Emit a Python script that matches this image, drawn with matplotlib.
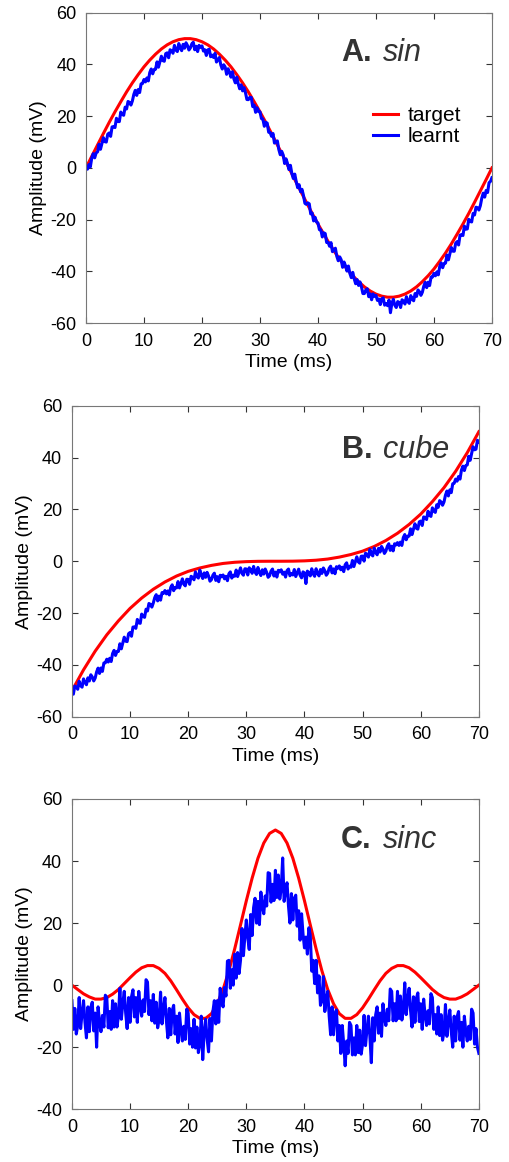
import numpy as np
import matplotlib.pyplot as plt

plt.rcParams['font.family'] = ['Liberation Sans', 'DejaVu Sans']
plt.rcParams['axes.unicode_minus'] = False

# -----------------------------------------------------
#  Data
# -----------------------------------------------------
t_target = np.arange(0, 71, 1.0)          # 1 ms grid for sin / sinc targets
t_cube_target = np.arange(0, 71, 2.0)     # 2 ms grid for the cubic target
t_learnt = np.arange(0, 70.25, 0.25)      # 0.25 ms grid for learnt traces

sin_target = [
    0.0, 4.5, 8.9, 13.3, 17.6, 21.7, 25.6, 29.4, 32.9, 36.1,
    39.1, 41.7, 44.0, 46.0, 47.6, 48.8, 49.6, 50.0, 50.0, 49.6,
    48.8, 47.6, 46.0, 44.0, 41.7, 39.1, 36.1, 32.9, 29.4, 25.6,
    21.7, 17.6, 13.3, 8.9, 4.5, 0.0, -4.5, -8.9, -13.3, -17.6,
    -21.7, -25.6, -29.4, -32.9, -36.1, -39.1, -41.7, -44.0, -46.0, -47.6,
    -48.8, -49.6, -50.0, -50.0, -49.6, -48.8, -47.6, -46.0, -44.0, -41.7,
    -39.1, -36.1, -32.9, -29.4, -25.6, -21.7, -17.6, -13.3, -8.9, -4.5,
    0.0,
]

sin_learnt = [
    0.2, -0.5, 1.3, 0.4, 3.9, 5.5, 3.9, 5.8,
    6.2, 9.15, 7.2, 9.45, 11.7, 10.15, 10.0, 13.05,
    13.5, 12.2, 15.85, 16.0, 15.6, 19.2, 17.95, 17.9,
    21.6, 20.7, 20.35, 23.5, 22.8, 25.7, 25.35, 24.3,
    25.9, 28.45, 30.0, 28.05, 30.3, 29.15, 32.5, 32.65,
    34.2, 33.25, 34.8, 33.65, 36.9, 38.25, 36.4, 38.05,
    38.2, 41.0, 38.95, 41.1, 43.2, 41.5, 41.25, 44.2,
    44.5, 42.6, 45.7, 45.3, 44.35, 47.4, 45.6, 45.0,
    48.1, 46.4, 45.35, 47.8, 46.3, 48.4, 47.35, 45.6,
    46.4, 48.0, 48.6, 45.7, 47.05, 45.0, 47.4, 46.6,
    47.2, 45.2, 45.7, 43.5, 45.65, 45.9, 43.0, 43.6,
    42.7, 44.3, 40.95, 41.8, 42.7, 39.8, 38.25, 39.9,
    39.0, 36.2, 38.35, 37.0, 35.1, 37.2, 34.45, 32.9,
    35.1, 32.55, 30.6, 32.15, 29.8, 31.05, 29.1, 26.45,
    26.4, 27.3, 27.25, 23.7, 24.3, 21.5, 23.25, 21.8,
    21.7, 19.1, 18.9, 16.1, 17.65, 17.3, 13.8, 13.7,
    12.2, 13.3, 9.6, 10.0, 10.45, 7.1, 5.1, 6.4,
    5.0, 1.7, 3.5, 1.7, -0.65, 1.0, -2.2, -4.1,
    -2.4, -5.3, -7.65, -6.5, -9.2, -8.3, -10.65, -13.7,
    -14.1, -13.5, -13.9, -17.8, -17.45, -20.5, -19.1, -20.9,
    -21.3, -23.9, -23.95, -26.7, -25.1, -25.4, -28.85, -28.8,
    -30.3, -28.9, -32.4, -31.7, -31.05, -34.2, -35.9, -34.4,
    -35.5, -38.45, -36.4, -37.85, -39.9, -37.95, -40.8, -42.45,
    -40.4, -42.9, -44.8, -43.2, -45.45, -44.1, -46.0, -48.6,
    -48.6, -47.2, -46.75, -49.8, -48.7, -51.0, -48.75, -49.7,
    -49.3, -51.25, -50.7, -52.85, -50.6, -50.25, -53.1, -52.45,
    -53.3, -51.1, -56.0, -52.3, -50.8, -53.1, -54.0, -51.7,
    -52.0, -54.0, -51.0, -51.5, -52.65, -49.8, -51.7, -52.4,
    -49.4, -50.7, -51.4, -48.6, -49.7, -47.2, -47.9, -49.3,
    -48.1, -45.7, -44.25, -46.3, -44.2, -45.5, -42.25, -42.2,
    -40.8, -41.75, -40.2, -41.35, -38.1, -36.75, -38.6, -36.95,
    -36.8, -33.7, -35.55, -33.2, -30.8, -32.2, -32.25, -29.1,
    -28.5, -29.8, -26.0, -25.8, -26.15, -22.5, -23.7, -23.6,
    -19.9, -20.7, -20.9, -17.6, -18.2, -15.2, -15.4, -16.3,
    -14.6, -11.7, -9.75, -11.3, -8.7, -9.5, -5.75, -5.2,
    -3.8,
]

cube_target = [
    -50.0, -41.9, -34.7, -28.4, -23.0, -18.2, -14.2, -10.8, -8.0, -5.7,
    -3.9, -2.6, -1.6, -0.85, -0.4, -0.15, -0.03, 0.0, 0.0, 0.03,
    0.15, 0.4, 0.85, 1.6, 2.6, 3.9, 5.7, 8.0, 10.8, 14.2,
    18.2, 23.0, 28.4, 34.7, 41.9, 50.0,
]

cube_learnt = [
    -49.5, -51.3, -48.15, -48.5, -49.4, -46.3, -48.05, -48.6,
    -45.4, -46.8, -47.65, -45.0, -46.2, -43.8, -44.65, -46.2,
    -45.1, -42.7, -41.25, -43.3, -41.2, -42.5, -39.25, -39.2,
    -37.8, -38.9, -37.45, -38.7, -35.6, -34.4, -36.35, -34.8,
    -34.8, -31.85, -33.8, -31.55, -29.3, -30.85, -31.0, -27.95,
    -27.5, -28.95, -25.4, -25.35, -25.9, -22.45, -23.8, -23.95,
    -20.4, -21.3, -21.65, -18.5, -19.2, -16.3, -16.65, -17.7,
    -16.1, -14.0, -12.9, -15.3, -13.45, -15.0, -12.1, -12.4,
    -11.3, -12.6, -11.45, -13.0, -10.1, -9.1, -11.35, -10.1,
    -10.3, -7.85, -10.3, -8.55, -6.8, -8.85, -9.5, -6.95,
    -7.0, -8.9, -5.8, -6.2, -7.15, -4.1, -5.9, -6.5,
    -3.4, -5.3, -6.65, -4.5, -6.2, -4.3, -5.65, -7.7,
    -7.1, -5.4, -4.6, -7.4, -5.95, -7.9, -5.4, -6.0,
    -5.3, -6.8, -5.8, -7.5, -4.85, -4.1, -6.5, -5.4,
    -5.8, -3.4, -5.9, -4.2, -2.55, -4.7, -5.4, -2.9,
    -3.0, -5.3, -2.5, -3.3, -4.65, -2.0, -4.2, -5.1,
    -2.4, -4.3, -5.5, -3.3, -4.95, -3.0, -4.3, -6.2,
    -5.6, -3.8, -3.0, -5.7, -4.2, -6.1, -3.5, -4.1,
    -3.3, -5.0, -4.2, -6.1, -3.6, -3.0, -5.6, -4.7,
    -5.3, -3.2, -5.9, -4.5, -3.05, -5.4, -6.4, -4.1,
    -4.5, -8.6, -3.8, -4.4, -5.65, -2.9, -4.9, -5.8,
    -2.9, -4.6, -5.65, -3.2, -4.7, -2.6, -3.65, -5.4,
    -4.6, -2.7, -1.9, -4.5, -2.95, -4.8, -2.1, -2.7,
    -1.8, -3.3, -2.3, -4.0, -1.35, -0.6, -3.0, -1.9,
    -2.3, 0.3, -2.05, -0.2, 1.7, -0.2, -0.75, 1.9,
    2.0, 0.05, 3.1, 2.65, 1.6, 4.55, 2.7, 2.05,
    5.1, 3.5, 2.5, 5.0, 3.55, 5.7, 4.7, 3.0,
    3.9, 5.8, 6.75, 4.2, 5.8, 4.0, 6.75, 6.3,
    7.2, 6.1, 7.4, 6.1, 9.15, 10.3, 8.3, 9.7,
    9.7, 12.5, 10.3, 12.4, 14.45, 12.7, 12.4, 15.2,
    15.5, 13.8, 17.1, 16.9, 16.1, 19.3, 17.7, 17.3,
    20.6, 19.4, 18.85, 21.8, 20.8, 23.4, 22.85, 21.6,
    22.9, 25.5, 27.1, 25.2, 27.55, 26.5, 29.9, 30.1,
    31.7, 30.9, 32.7, 31.7, 35.15, 36.7, 35.0, 36.9,
    37.2, 40.5, 38.95, 41.6, 44.2, 43.0, 43.25, 46.7,
    46.0,
]

sinc_target = [
    0.0, -1.4, -2.8, -3.8, -4.5, -4.5, -4.0, -2.9, -1.4, 0.5,
    2.4, 4.2, 5.6, 6.3, 6.3, 5.4, 3.8, 1.4, -1.5, -4.5,
    -7.3, -9.5, -10.7, -10.7, -9.2, -6.0, -1.4, 4.6, 11.7, 19.4,
    27.2, 34.5, 40.9, 45.8, 48.9, 50.0, 48.9, 45.8, 40.9, 34.5,
    27.2, 19.4, 11.7, 4.6, -1.4, -6.0, -9.2, -10.7, -10.7, -9.5,
    -7.3, -4.5, -1.5, 1.4, 3.8, 5.4, 6.3, 6.3, 5.6, 4.2,
    2.4, 0.5, -1.4, -2.9, -4.0, -4.5, -4.5, -3.8, -2.8, -1.4,
    0.0,
]

sinc_learnt = [
    -5, -14.25, -7.5, -15.75, -13, -4, -14, -9,
    -5, -12, -17, -7, -15, -7.25, -5.5, -14.75,
    -9, -20, -7, -12, -15, -9.75, -13.5, -3.25,
    -4, -13.75, -8.5, -14.25, -5, -13.5, -6, -13.5,
    -10, -1, -11, -6, -2, -9, -14, -4,
    -12, -3.75, -1.5, -10.25, -4, -12, -2, -7,
    -10, -4.75, -8.5, 1.75, 1, -9.5, -5, -11.5,
    -3, -12.25, -5.5, -13.75, -11, -2.25, -12.5, -7.75,
    -4, -11.5, -17, -7.5, -16, -8.25, -6.5, -15.75,
    -10, -18.5, -9, -14.5, -18, -13.25, -17.5, -7.75,
    -9, -19, -14, -20, -11, -20.25, -13.5, -21.75,
    -19, -10, -24, -15, -11, -17.25, -21.5, -10.75,
    -18, -8.5, -5, -12.5, -5, -12, -1, -5,
    -7, -0.75, -3.5, 7.75, 8, -1, 5, 0,
    10, 2.25, 10.5, 3.75, 8, 18.25, 9.5, 15.75,
    21, 15.25, 11.5, 22.75, 16, 25, 28, 20,
    27, 19.5, 30, 25.5, 23, 28.75, 25.5, 36.25,
    36, 26.75, 32.5, 27.25, 37, 28.25, 35.5, 27.75,
    31, 41, 27, 30.5, 33, 25.5, 20, 29.5,
    21, 28, 29, 19, 24, 14.5, 23, 16.5,
    12, 15.5, 10, 18.5, 16, 4.5, 8, 0.5,
    8, -2.5, 3, -6.5, -5, 2.75, -8.5, -4.75,
    -2, -10, -16, -7, -16, -9, -8, -18,
    -13, -22, -13, -19, -26, -18, -22, -12,
    -13, -22.5, -17, -22.5, -13, -21.75, -14.5, -22.25,
    -19, -9.75, -19.5, -14.25, -10, -16.5, -25, -10.5,
    -18, -9.5, -7, -15.5, -9, -16.5, -6, -10.5,
    -13, -7.75, -11.5, -1.25, -2, -11.5, -6, -11.5,
    -2, -10.75, -3.5, -11.25, -8, 0.75, -9.5, -4.75,
    -1, -8.25, -13.5, -3.75, -12, -4.25, -2.5, -11.75,
    -6, -14.25, -4.5, -9.75, -13, -8.25, -12.5, -2.75,
    -4, -14.25, -9.5, -15.75, -7, -16.25, -9.5, -17.75,
    -15, -6.25, -16.5, -11.75, -8, -15, -20, -10,
    -18, -10.25, -8.5, -17.75, -12, -20, -10, -15,
    -18, -13.25, -17.5, -7.75, -9, -19, -14, -20,
    -22,
]

panels = [
    ("A.", "sin", t_target, sin_target, sin_learnt, (-60, 60), np.arange(-60, 61, 20)),
    ("B.", "cube", t_cube_target, cube_target, cube_learnt, (-60, 60), np.arange(-60, 61, 20)),
    ("C.", "sinc", t_target, sinc_target, sinc_learnt, (-40, 60), np.arange(-40, 61, 20)),
]

# axes rectangles (left, bottom, width, height) in figure fraction
rects = [
    (0.1686, 0.722, 0.796, 0.267),
    (0.141, 0.3832, 0.798, 0.2676),
    (0.141, 0.0454, 0.798, 0.267),
]
title_x = [(0.628, 0.731), (0.663, 0.764), (0.661, 0.764)]
title_y = [0.844, 0.833, 0.843]

# -----------------------------------------------------
#  Plot
# -----------------------------------------------------
fig = plt.figure(figsize=(5.10, 11.62), dpi=100)

for i, (lab, name, tt, target, learnt, ylim, yticks) in enumerate(panels):
    ax = fig.add_axes(rects[i])
    ax.plot(tt, target, color="#ff0000", linewidth=2.2, label="target")
    ax.plot(t_learnt, learnt, color="#0000ff", linewidth=2.2, label="learnt")

    ax.set_xlim(0, 70)
    ax.set_ylim(*ylim)
    ax.set_xticks(np.arange(0, 71, 10))
    ax.set_yticks(yticks)
    ax.tick_params(direction="in", length=4, width=0.8, top=True, right=True,
                   labelsize=13, color="#333333", pad=7)
    for sp in ax.spines.values():
        sp.set_color("#777777")
        sp.set_linewidth(0.8)

    ax.set_xlabel("Time (ms)", fontsize=14, labelpad=3)
    ax.set_ylabel("Amplitude (mV)", fontsize=14, labelpad=2)

    ax.text(title_x[i][0], title_y[i], lab, transform=ax.transAxes,
            fontsize=22, fontweight="bold", color="#333333")
    ax.text(title_x[i][1], title_y[i], name, transform=ax.transAxes,
            fontsize=22, fontstyle="italic", color="#333333")

    if i == 0:
        ax.legend(loc="upper left", bbox_to_anchor=(0.707, 0.70), frameon=False,
                  fontsize=15, handlelength=1.2, handletextpad=0.48,
                  borderpad=0, borderaxespad=0, labelspacing=0.1)

fig.savefig("out.png", dpi=100)
